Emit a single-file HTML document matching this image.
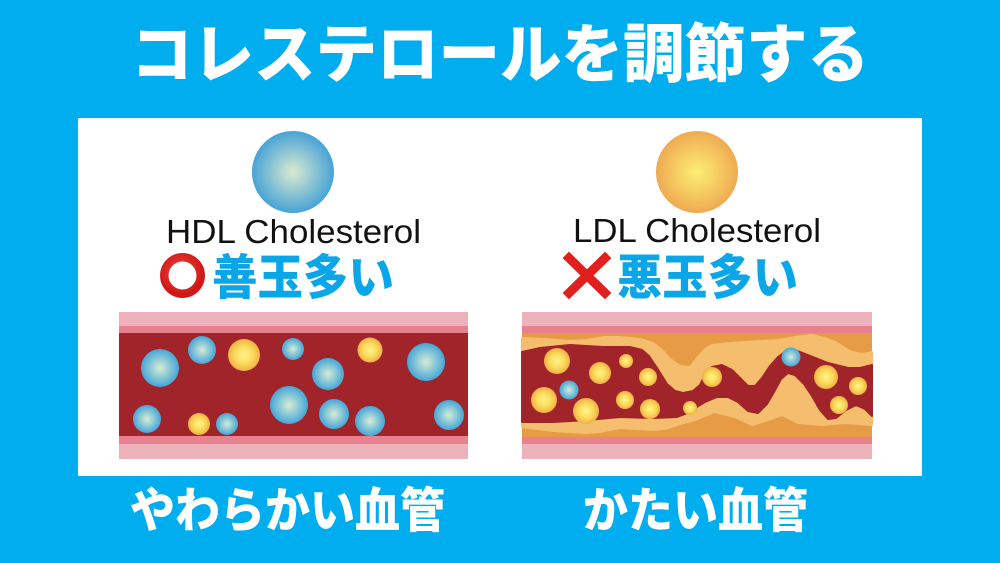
<!DOCTYPE html>
<html><head><meta charset="utf-8"><style>
html,body{margin:0;padding:0;background:#00AEEF;}
svg{display:block;}
.jp{font-family:"Liberation Sans","Noto Sans CJK JP",sans-serif;font-weight:900;}
</style></head><body>
<svg width="1000" height="563" viewBox="0 0 1000 563" xmlns="http://www.w3.org/2000/svg">
<defs>
<radialGradient id="bl" cx="50%" cy="50%" r="50%"><stop offset="0" stop-color="#D6ECD4"/><stop offset="1" stop-color="#45A6D8"/></radialGradient>
<radialGradient id="yl" cx="50%" cy="50%" r="50%"><stop offset="0" stop-color="#FFF58A"/><stop offset="0.55" stop-color="#FADB5C"/><stop offset="1" stop-color="#F0B046"/></radialGradient>
<radialGradient id="bigb" cx="50%" cy="50%" r="50%"><stop offset="0" stop-color="#DAEBCF"/><stop offset="1" stop-color="#47A3D6"/></radialGradient>
<radialGradient id="bigy" cx="50%" cy="50%" r="50%"><stop offset="0" stop-color="#FCEF74"/><stop offset="1" stop-color="#EFAA52"/></radialGradient>
<radialGradient id="ring" cx="45%" cy="40%" r="60%"><stop offset="0" stop-color="#F04A40"/><stop offset="1" stop-color="#D01818"/></radialGradient>
</defs>
<rect width="1000" height="563" fill="#00AEEF"/>
<text x="500" y="77" text-anchor="middle" class="jp" font-size="64" fill="#fff" textLength="738" lengthAdjust="spacingAndGlyphs">コレステロールを調節する</text>
<rect x="78" y="118" width="844" height="358" fill="#fff"/>

<circle cx="293" cy="172" r="41" fill="url(#bigb)"/>
<circle cx="697" cy="172" r="41" fill="url(#bigy)"/>

<text x="166" y="243" font-family="Liberation Sans, sans-serif" font-size="33" fill="#111" textLength="255" lengthAdjust="spacingAndGlyphs">HDL Cholesterol</text>
<text x="573" y="242" font-family="Liberation Sans, sans-serif" font-size="33" fill="#111" textLength="248" lengthAdjust="spacingAndGlyphs">LDL Cholesterol</text>

<circle cx="182.5" cy="275.5" r="18.2" fill="none" stroke="url(#ring)" stroke-width="8.5"/>
<text x="212" y="294" class="jp" font-size="48" fill="#0AA6E8" textLength="182" lengthAdjust="spacingAndGlyphs">善玉多い</text>

<g stroke="#E1201E" stroke-width="9" stroke-linecap="square">
<line x1="569" y1="258" x2="605" y2="293"/><line x1="605" y1="258" x2="569" y2="293"/>
</g>
<text x="617" y="294" class="jp" font-size="48" fill="#0AA6E8" textLength="181" lengthAdjust="spacingAndGlyphs">悪玉多い</text>

<!-- left vessel -->
<rect x="119" y="312" width="349" height="147" fill="#EDB2BA"/>
<rect x="119" y="326" width="349" height="118" fill="#E7808F"/>
<rect x="119" y="333" width="349" height="103" fill="#A0242A"/>
<g fill="url(#bl)">
<circle cx="160" cy="368" r="19"/><circle cx="202" cy="350" r="14"/><circle cx="293" cy="349" r="11"/>
<circle cx="328" cy="374" r="16"/><circle cx="426" cy="362" r="19"/><circle cx="147" cy="419" r="14"/>
<circle cx="227" cy="424" r="11"/><circle cx="289" cy="405" r="19"/><circle cx="334" cy="414" r="15"/>
<circle cx="370" cy="421" r="15"/><circle cx="449" cy="415" r="15"/>
</g>
<g fill="url(#yl)">
<circle cx="244" cy="355" r="16"/><circle cx="370" cy="350" r="12.5"/><circle cx="199" cy="424" r="11"/>
</g>

<!-- right vessel -->
<rect x="522" y="312" width="350" height="147" fill="#EDB2BA"/>
<rect x="522" y="326" width="350" height="118" fill="#E7808F"/>
<rect x="522" y="333" width="350" height="104" fill="#E89B45"/>
<path fill="#F5BE6E" stroke="#F5BE6E" stroke-linejoin="round" stroke-width="2" d="M522,338 L545,339 L570,341 L587,340 L605,337 L620,337 L640,339 L653,343 L662,350 L670,359 L680,366 L690,367 L697,358 L705,349 L712,345 L730,343 L745,342 L778,340 L795,337 L812,335 L825,338 L835,342 L845,348 L852,352 L862,354 L872,352 L872,425 L845,423 L822,425 L798,423 L782,415 L768,420 L752,425 L735,417 L715,412 L695,420 L680,424 L665,429 L653,430 L620,428 L600,432 L587,433 L553,431 L522,427 Z"/>
<path fill="#A0242A" stroke="#A0242A" stroke-linejoin="round" stroke-width="2" d="M522,352 L540,348 L570,345 L603,347 L630,347 L642,350 L649,356 L657,368 L667,384 L675,391 L683,393 L693,391 L700,385 L705,375 L712,367 L722,365 L732,370 L740,378 L748,386 L755,386 L762,378 L770,366 L778,357 L786,351 L795,350 L808,355 L828,363 L848,368 L860,368 L872,365 L872,416 L865,409 L856,405 L846,410 L836,418 L828,419 L820,410 L812,396 L804,384 L795,375 L788,373 L781,379 L774,392 L767,404 L758,413 L748,411 L738,402 L728,397 L717,397 L705,402 L695,408 L685,414 L677,417 L653,418 L620,417 L587,420 L553,422 L522,422 Z"/>
<g fill="url(#yl)">
<circle cx="557" cy="361" r="13"/><circle cx="600" cy="373" r="11"/><circle cx="626" cy="361" r="7"/>
<circle cx="648" cy="377" r="9"/><circle cx="544" cy="400" r="13"/><circle cx="586" cy="411" r="13"/>
<circle cx="625" cy="400" r="9"/><circle cx="650" cy="409" r="10"/><circle cx="690" cy="408" r="7"/>
<circle cx="712" cy="377" r="10"/><circle cx="826" cy="377" r="12"/><circle cx="858" cy="386" r="9"/>
<circle cx="839" cy="405" r="9"/>
</g>
<g fill="url(#bl)">
<circle cx="569" cy="390" r="9.5"/><circle cx="791" cy="357" r="9.5"/>
</g>

<text x="130" y="527" class="jp" font-size="48" fill="#fff" textLength="315" lengthAdjust="spacingAndGlyphs">やわらかい血管</text>
<text x="583" y="527" class="jp" font-size="48" fill="#fff" textLength="225" lengthAdjust="spacingAndGlyphs">かたい血管</text>
</svg>
</body></html>
